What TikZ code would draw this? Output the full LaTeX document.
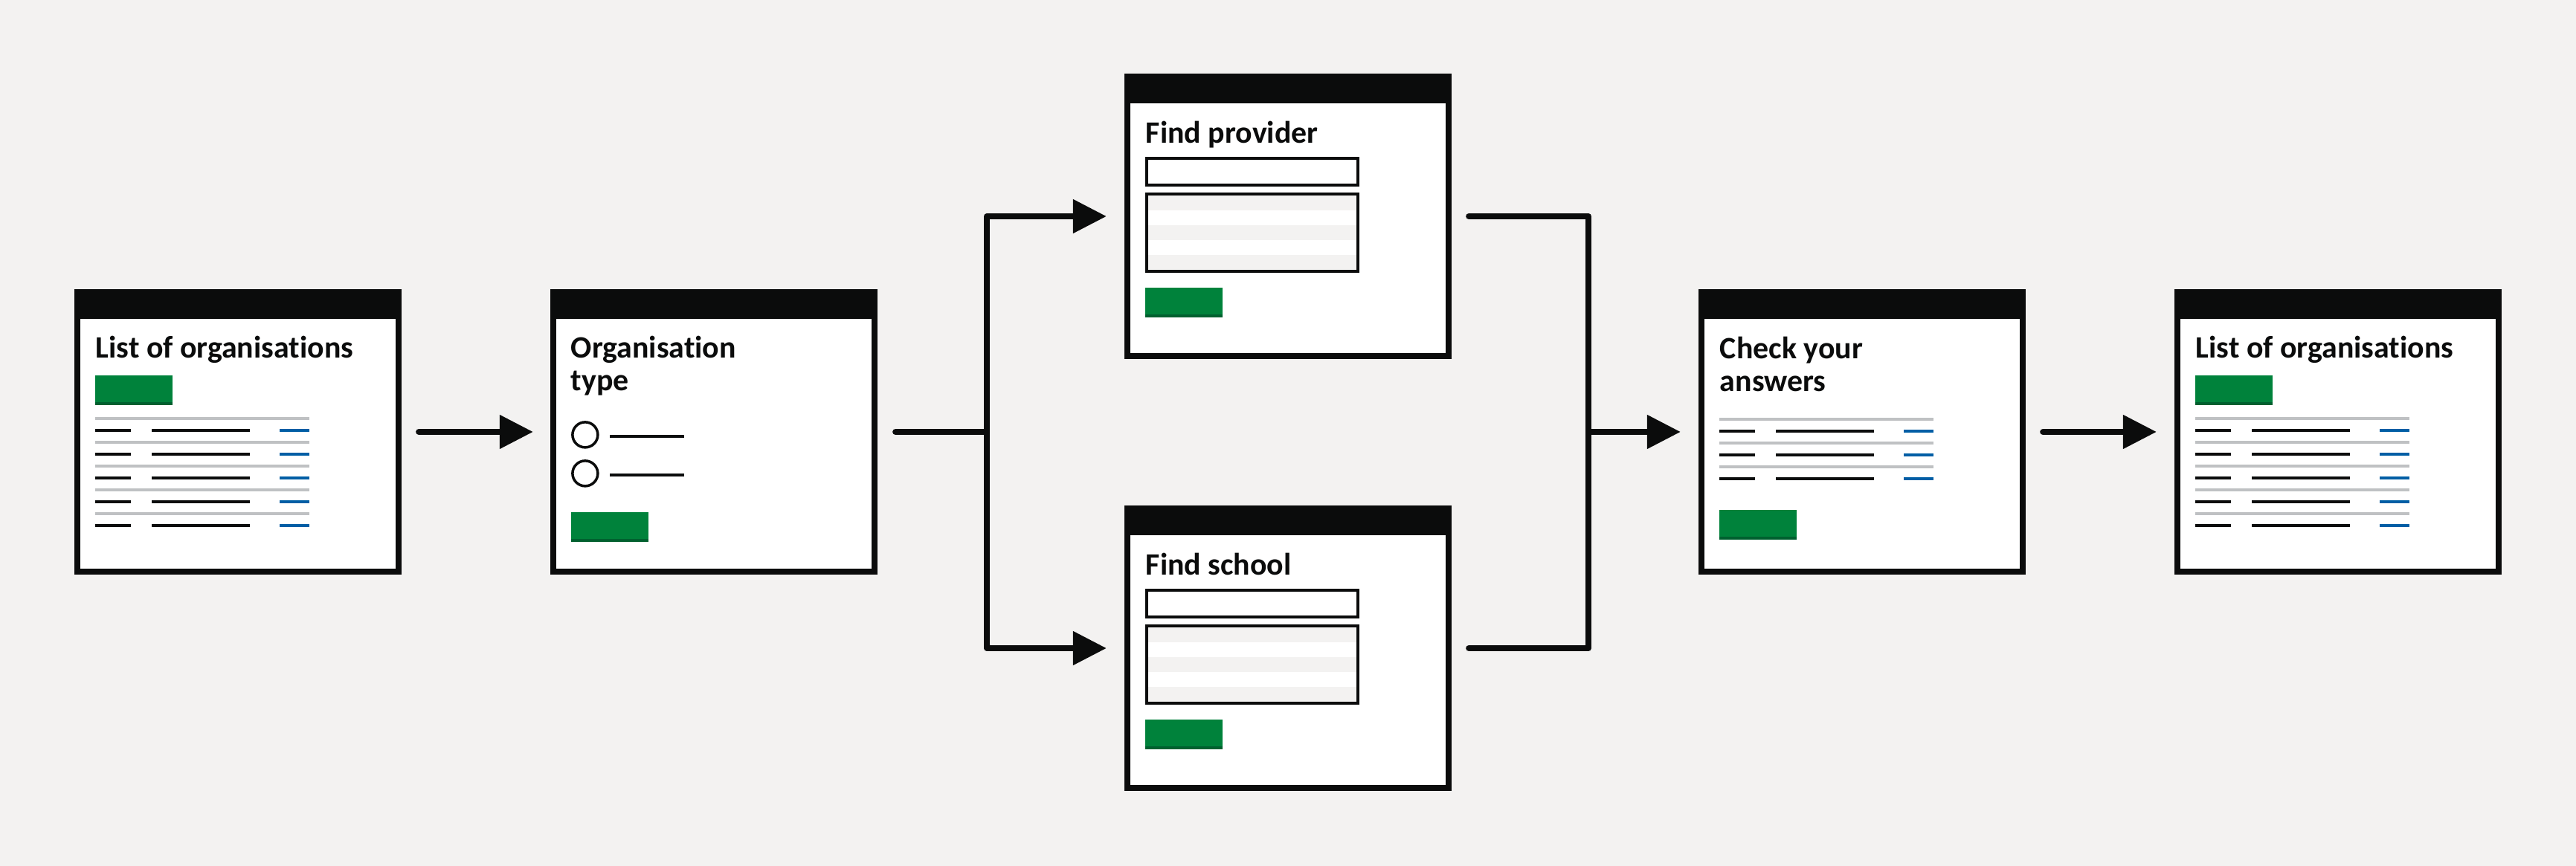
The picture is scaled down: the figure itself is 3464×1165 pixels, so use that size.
\documentclass[tikz,border=0pt]{standalone}
\usepackage{fontspec}
\usetikzlibrary{arrows.meta}
\newfontfamily\gds{Carlito}[Ligatures={NoCommon}]
\definecolor{bg}{HTML}{F3F2F1}
\definecolor{ink}{HTML}{0B0C0C}
\definecolor{govgreen}{HTML}{00823B}
\definecolor{greendark}{HTML}{00602F}
\definecolor{linkblue}{HTML}{005EA5}
\definecolor{rulegrey}{HTML}{BFC1C3}
\definecolor{stripe}{HTML}{F3F2F1}
\tikzset{
  win/.style={rectangle, fill=ink, draw=none, minimum width=4.4cm, minimum height=3.84cm, inner sep=0pt, outer sep=0pt},
  wtitle/.style={anchor=base west, inner sep=0pt, outer sep=0pt, text=ink, font=\gds\bfseries\fontsize{11.9pt}{12.5pt}\selectfont},
  conn/.style={draw=ink, line width=0.08cm, line cap=round, line join=round},
  arr/.style={conn, -{Triangle[length=0.45cm,width=0.44cm]}},
  fieldbox/.style={draw=ink, line width=0.04cm},
  radio/.style={draw=ink, line width=0.035cm, fill=white},
}
\newcommand{\mkwin}[2]{%
  \node[win] (#1) at (#2) {};
  \fill[white] ([xshift=0.08cm,yshift=0.08cm]#1.south west) rectangle ([xshift=-0.08cm,yshift=-0.40cm]#1.north east);}
\newcommand{\gbutton}[1]{%
  \fill[govgreen] (28,#1) rectangle (132,{#1+40});
  \fill[greendark] (28,{#1+36}) rectangle (132,{#1+40});}
\newcommand{\summaryrows}[1]{%
  \foreach \i in {0,...,#1}{
    \fill[rulegrey] (28,{172+32*\i}) rectangle (316,{176+32*\i});
    \fill[ink] (28,{188+32*\i}) rectangle (76,{192+32*\i});
    \fill[ink] (104,{188+32*\i}) rectangle (236,{192+32*\i});
    \fill[linkblue] (276,{188+32*\i}) rectangle (316,{192+32*\i});
  }}
\newcommand{\searchform}{%
  \draw[fieldbox, fill=white] (30,114) rectangle (314,150);
  \fill[white] (30,162) rectangle (314,266);
  \foreach \j in {0,1,2}{\fill[stripe] (32,{164+40*\j}) rectangle (312,{184+40*\j});}
  \draw[fieldbox] (30,162) rectangle (314,266);
  \gbutton{288}}
\begin{document}
\begin{tikzpicture}[x=0.01cm,y=-0.01cm]
\fill[bg] (0,0) rectangle (3464,1165);
\useasboundingbox (0,0) rectangle (3464,1165);

% windows
\mkwin{w1}{320,581}
\mkwin{w2}{960,581}
\mkwin{w3}{1732,291}
\mkwin{w4}{1732,872}
\mkwin{w5}{2504,581}
\mkwin{w6}{3144,581}

% window 1: list of organisations
\begin{scope}[shift={(w1.north west)}]
  \node[wtitle] (t1) at (29,93) {List of organisations};
  \gbutton{116}
  \summaryrows{4}
\end{scope}

% window 2: organisation type
\begin{scope}[shift={(w2.north west)}]
  \node[wtitle] (t2a) at (28,93) {Organisation};
  \node[wtitle] (t2b) at (28,137) {type};
  \draw[radio] (47,196) circle (17);
  \draw[radio] (47,248) circle (17);
  \fill[ink] (80,196) rectangle (180,200);
  \fill[ink] (80,248) rectangle (180,252);
  \gbutton{300}
\end{scope}

% window 3: find provider
\begin{scope}[shift={(w3.north west)}]
  \node[wtitle] (t3) at (29,94) {Find provider};
  \searchform
\end{scope}

% window 4: find school
\begin{scope}[shift={(w4.north west)}]
  \node[wtitle] (t4) at (29,94) {Find school};
  \searchform
\end{scope}

% window 5: check your answers
\begin{scope}[shift={(w5.north west)}]
  \node[wtitle] (t5a) at (29,94) {Check your};
  \node[wtitle] (t5b) at (29,138) {answers};
  \begin{scope}[yshift=-0.01cm]
    \summaryrows{2}
  \end{scope}
  \gbutton{297}
\end{scope}

% window 6: list of organisations
\begin{scope}[shift={(w6.north west)}]
  \node[wtitle] (t6) at (29,93) {List of organisations};
  \gbutton{116}
  \summaryrows{4}
\end{scope}

% connectors
\coordinate (split) at (1327,581);
\coordinate (merge) at (2136,581);
\draw[arr] ([xshift=0.23cm]w1.east) -- ([xshift=-0.23cm]w2.west);
\draw[conn] ([xshift=0.24cm]w2.east) -- (split);
\draw[arr] (split) |- ([xshift=-0.24cm]w3.west);
\draw[arr] (split) |- ([xshift=-0.24cm]w4.west);
\draw[conn] ([xshift=0.23cm]w3.east) -| (merge);
\draw[conn] ([xshift=0.23cm]w4.east) -| (merge);
\draw[arr] (merge) -- ([xshift=-0.24cm]w5.west);
\draw[arr] ([xshift=0.23cm]w5.east) -- ([xshift=-0.24cm]w6.west);
\end{tikzpicture}
\end{document}
